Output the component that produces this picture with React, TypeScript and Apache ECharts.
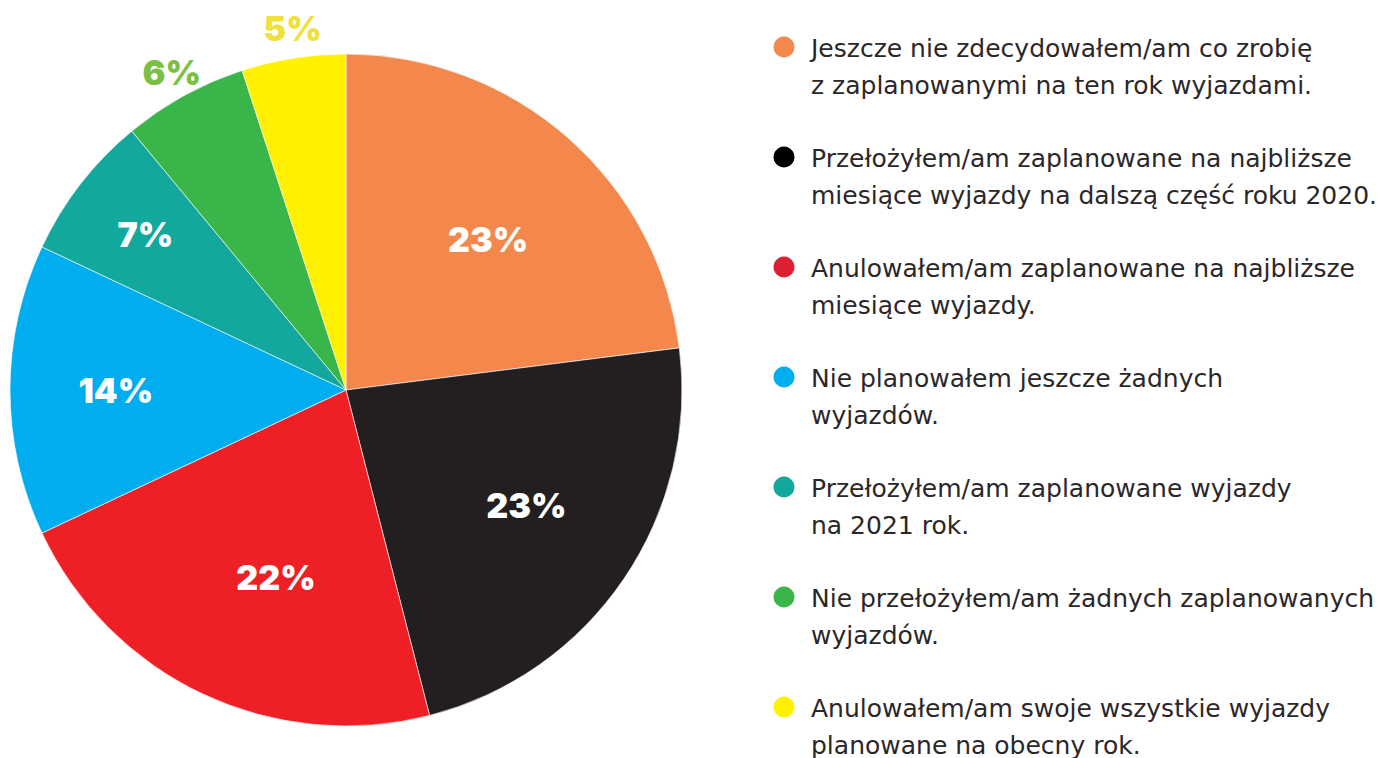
import React, { useEffect, useRef } from "react";
import * as echarts from "echarts";

const categories = [
  "Jeszcze nie zdecydowałem/am co zrobię\nz zaplanowanymi na ten rok wyjazdami.",
  "Przełożyłem/am zaplanowane na najbliższe\nmiesiące wyjazdy na dalszą część roku 2020.",
  "Anulowałem/am zaplanowane na najbliższe\nmiesiące wyjazdy.",
  "Nie planowałem jeszcze żadnych\nwyjazdów.",
  "Przełożyłem/am zaplanowane wyjazdy\nna 2021 rok.",
  "Nie przełożyłem/am żadnych zaplanowanych\nwyjazdów.",
  "Anulowałem/am swoje wszystkie wyjazdy\nplanowane na obecny rok.",
];
const values = [23, 23, 22, 14, 7, 6, 5];
const colors = ["#f4874b", "#231f20", "#ee1f25", "#00aeef", "#12a89d", "#3ab54a", "#fff100"];
const legendColors = ["#f4874b", "#000000", "#dc1f33", "#00aeef", "#12a89d", "#3ab54a", "#fff100"];
const labelColors = ["#ffffff", "#ffffff", "#ffffff", "#ffffff", "#ffffff", "#7ac143", "#efe03a"];
const labelRadiusRatio = [0.616, 0.637, 0.595, 0.685, 0.756, 1.077, 1.089];
const labelAngleShift = [2, -1.6, -4.7, 0, 0, 0, 0.6];

export default function App() {
  const ref = useRef<HTMLDivElement>(null);
  useEffect(() => {
    const chart = echarts.init(ref.current!, null, { renderer: "svg" });
    const cx = 346, cy = 390, R = 336;
    const total = values.reduce((a, b) => a + b, 0);
    const mids: number[] = [];
    let acc = 0;
    values.forEach((v) => {
      mids.push(((acc + v / 2) / total) * 2 * Math.PI);
      acc += v;
    });
    const legendX = 784, legendY0 = 47, legendGap = 110;
    chart.setOption({
      animation: false,
      series: [
        {
          type: "pie",
          center: [cx, cy],
          radius: R,
          startAngle: 90,
          clockwise: true,
          silent: true,
          data: categories.map((name, i) => ({
            name,
            value: values[i],
            itemStyle: { color: colors[i] },
            label: { color: labelColors[i] },
          })),
          label: {
            show: true,
            position: "inside",
            formatter: "{c}%",
            fontFamily: "Inter",
            fontWeight: 900,
            fontSize: 34,
          },
          labelLine: { show: false },
          itemStyle: { borderColor: "#ffffff", borderWidth: 0.6 },
          labelLayout: (p: any) => {
            const i = p.dataIndex;
            const a = mids[i] + (labelAngleShift[i] * Math.PI) / 180;
            const r = R * labelRadiusRatio[i];
            return {
              x: cx + r * Math.sin(a),
              y: cy - r * Math.cos(a),
              align: "center",
              verticalAlign: "middle",
            };
          },
        },
      ],
      graphic: categories.flatMap((name, i) => {
        const y = legendY0 + legendGap * i;
        return [
          {
            type: "circle",
            shape: { cx: legendX, cy: y, r: 10.5 },
            style: { fill: legendColors[i] },
          },
          {
            type: "text",
            x: 811,
            y: y - 17.5,
            style: {
              text: name,
              fill: "#2b2728",
              font: '25px "DejaVu Sans"',
              lineHeight: 37,
              verticalAlign: "top",
              align: "left",
            },
          },
        ];
      }),
    });
    return () => chart.dispose();
  }, []);
  return (
    <div
      ref={ref}
      style={{ position: "absolute", left: 0, top: 0, width: 1387, height: 758, background: "#fff" }}
    />
  );
}
